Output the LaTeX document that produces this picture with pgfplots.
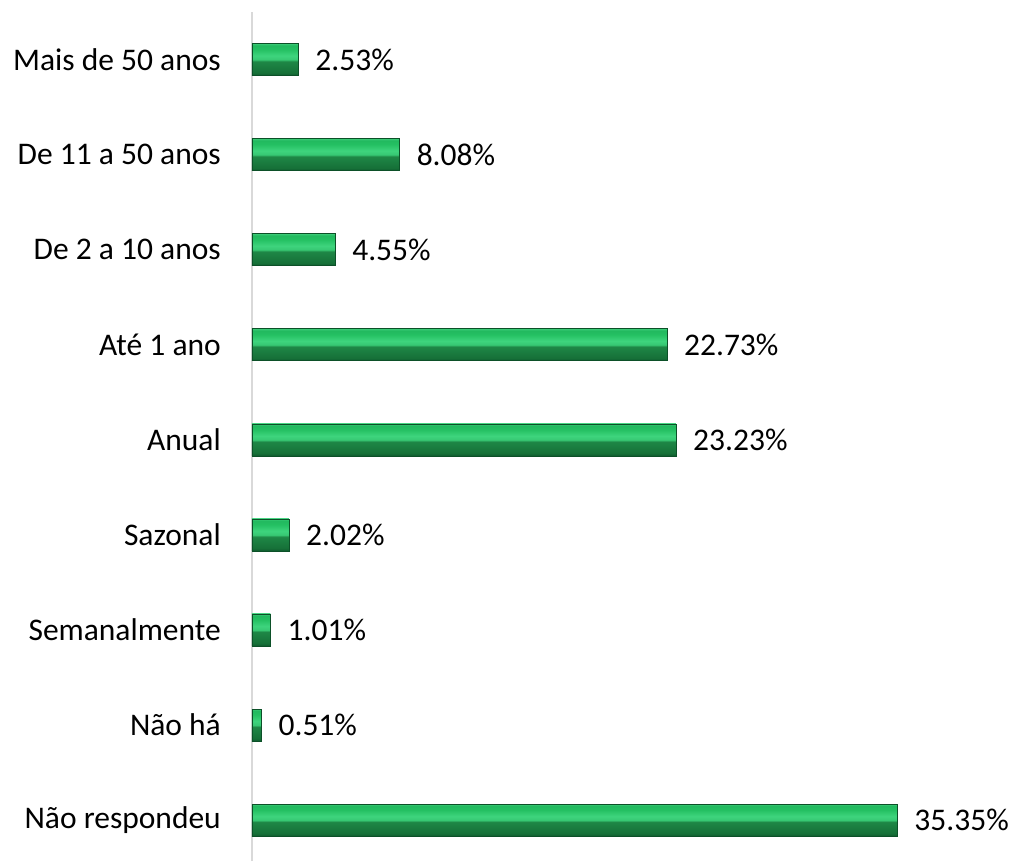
\documentclass[border=0pt]{standalone}
\usepackage{pgfplots}
\pgfplotsset{compat=1.18}
\usepackage{fontspec}
\setmainfont{Carlito}
\definecolor{gedge}{RGB}{12,80,40}
\definecolor{axgray}{RGB}{217,217,217}
\pgfdeclareverticalshading{bevel}{100bp}{
  color(0bp)=(rgb,255:red,14;green,90;blue,45);
  color(25bp)=(rgb,255:red,14;green,90;blue,45);
  color(29bp)=(rgb,255:red,22;green,112;blue,56);
  color(47bp)=(rgb,255:red,30;green,135;blue,70);
  color(50bp)=(rgb,255:red,55;green,200;blue,115);
  color(56bp)=(rgb,255:red,62;green,212;blue,125);
  color(66bp)=(rgb,255:red,36;green,192;blue,98);
  color(72bp)=(rgb,255:red,34;green,185;blue,95);
  color(75bp)=(rgb,255:red,60;green,205;blue,120);
  color(100bp)=(rgb,255:red,60;green,205;blue,120)}
\pgfplotsset{mybar/.style={draw=gedge, line width=0.6pt, shade, shading=bevel, bar shift=0pt}}
\begin{document}
\begin{tikzpicture}
\begin{axis}[
  scale only axis,
  width=730bp, height=849bp,
  xmin=0, xmax=40,
  ymin=-0.43, ymax=8.5,
  xbar, bar width=32bp,
  axis x line=none,
  axis y line*=left,
  y axis line style={draw=axgray, line width=1.6pt, -},
  ytick={0,...,8},
  yticklabels={Não respondeu, Não há, Semanalmente, Sazonal, Anual, Até 1 ano, De 2 a 10 anos, De 11 a 50 anos, Mais de 50 anos},
  major tick length=0pt,
  ytick style={draw=none},
  yticklabel style={font=\fontsize{31.5bp}{38bp}\selectfont, anchor=east, inner sep=0pt, xshift=-31bp},
  point meta=x,
  nodes near coords={\pgfmathprintnumber[fixed,fixed zerofill,precision=2,assume math mode=true]{\pgfplotspointmeta}\%},
  nodes near coords style={font=\fontsize{31.5bp}{38bp}\selectfont, text=black, anchor=west, inner sep=0pt, xshift=17bp},
  clip=false,
]
\addplot[mybar] coordinates {(35.35,0)};
\addplot[mybar] coordinates {(0.51,1)};
\addplot[mybar] coordinates {(1.01,2)};
\addplot[mybar] coordinates {(2.02,3)};
\addplot[mybar] coordinates {(23.23,4)};
\addplot[mybar] coordinates {(22.73,5)};
\addplot[mybar] coordinates {(4.55,6)};
\addplot[mybar] coordinates {(8.08,7)};
\addplot[mybar] coordinates {(2.53,8)};
\coordinate (bl) at (rel axis cs:0,0);
\coordinate (tr) at (rel axis cs:1,1);
\end{axis}
\pgfresetboundingbox
\path ([xshift=-252bp]bl) rectangle ([xshift=32bp,yshift=12bp]tr);
\end{tikzpicture}
\end{document}
